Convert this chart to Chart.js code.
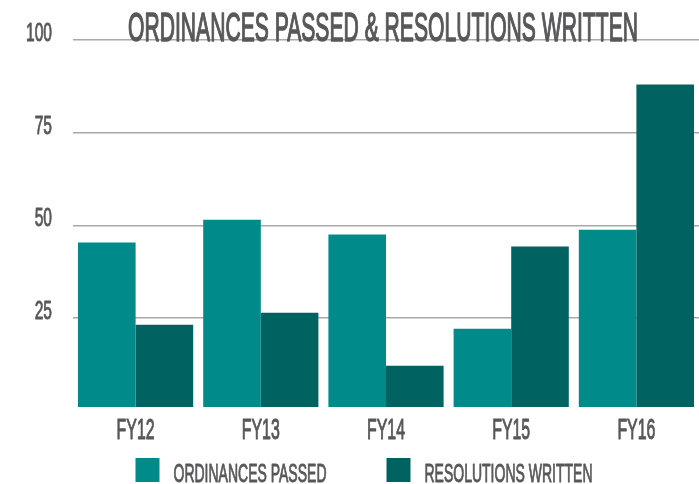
<!DOCTYPE html>
<html>
<head>
<meta charset="utf-8">
<script src="https://cdn.jsdelivr.net/npm/chart.js@4/dist/chart.umd.min.js"></script>
<style>
  html, body { margin: 0; padding: 0; background: #fff; }
  canvas { display: block; }
</style>
</head>
<body>
<canvas id="barChart" width="699" height="484"></canvas>
<script>
var title = 'ORDINANCES PASSED & RESOLUTIONS WRITTEN';
var categories = ['FY12', 'FY13', 'FY14', 'FY15', 'FY16'];
var seriesNames = ['ORDINANCES PASSED', 'RESOLUTIONS WRITTEN'];
var ordinancesPassed = [45.4, 51.5, 47.5, 22.1, 48.8];
var resolutionsWritten = [23.2, 26.4, 12.1, 44.3, 88];
var yTicks = [25, 50, 75, 100];

var textColor = '#58585a';
var fontFamily = '"Liberation Sans Narrow", "Liberation Sans", sans-serif';

function setFont(ctx, size) {
  ctx.font = size + 'px ' + fontFamily;
}

// squeeze factor so that a sample string comes out at the wanted width
// (the original uses a condensed display face)
function squeezeFor(ctx, sample, size, wanted) {
  ctx.save();
  setFont(ctx, size);
  var w = ctx.measureText(sample).width;
  ctx.restore();
  return wanted / w;
}

function squeezedText(ctx, text, x, y, size, align, squeeze) {
  ctx.save();
  setFont(ctx, size);
  ctx.fillStyle = textColor;
  ctx.strokeStyle = textColor;
  ctx.lineWidth = size / 28;
  ctx.lineJoin = 'round';
  ctx.textAlign = align;
  ctx.textBaseline = 'alphabetic';
  ctx.translate(x, y);
  ctx.scale(squeeze, 1);
  ctx.fillText(text, 0, 0);
  ctx.strokeText(text, 0, 0);  // a little extra weight
  ctx.restore();
}

function squeezedWidth(ctx, text, size, squeeze) {
  ctx.save();
  setFont(ctx, size);
  var w = ctx.measureText(text).width * squeeze;
  ctx.restore();
  return w;
}

var textPlugin = {
  id: 'textPlugin',
  afterDraw: function (chart) {
    var ctx = chart.ctx;
    var xs = chart.scales.x, ys = chart.scales.y;

    // title, sitting on the top gridline
    var tSize = 41;
    squeezedText(ctx, title, 383, 41, tSize, 'center', squeezeFor(ctx, title, tSize, 510));

    // y tick labels, sitting on their gridlines
    var ySize = 25, ySq = squeezeFor(ctx, '100', ySize, 26);
    ys.ticks.forEach(function (t) {
      var y = ys.getPixelForValue(t.value);
      squeezedText(ctx, String(t.value), 52, y + 1, ySize, 'right', ySq);
    });

    // category labels
    var xSize = 29, xSq = squeezeFor(ctx, 'FY12', xSize, 38);
    categories.forEach(function (c, i) {
      squeezedText(ctx, c, xs.getPixelForValue(i), 439, xSize, 'center', xSq);
    });

    // legend
    var size = 26, sq = squeezeFor(ctx, seriesNames[0], size, 153);
    var box = 24, gapBox = 14, gapItem = 60;
    var total = 0;
    chart.data.datasets.forEach(function (ds, i) {
      total += box + gapBox + squeezedWidth(ctx, ds.label, size, sq);
      if (i > 0) total += gapItem;
    });
    var x = 364 - total / 2;
    chart.data.datasets.forEach(function (ds) {
      ctx.fillStyle = ds.backgroundColor;
      ctx.fillRect(x, 458, box, box);
      x += box + gapBox;
      squeezedText(ctx, ds.label, x, 482, size, 'left', sq);
      x += squeezedWidth(ctx, ds.label, size, sq) + gapItem;
    });
  }
};

var ctx = document.getElementById('barChart').getContext('2d');
var chart = new Chart(ctx, {
  type: 'bar',
  data: {
    labels: categories,
    datasets: [{
      label: seriesNames[0],
      backgroundColor: '#008a89',
      borderWidth: 0,
      data: ordinancesPassed
    }, {
      label: seriesNames[1],
      backgroundColor: '#006261',
      borderWidth: 0,
      data: resolutionsWritten
    }]
  },
  options: {
    responsive: false,
    animation: false,
    layout: { padding: { top: 40, right: -4, left: 0, bottom: 0 } },
    datasets: {
      bar: { barPercentage: 1, categoryPercentage: 0.92 }
    },
    plugins: {
      legend: { display: false },
      title: { display: false },
      tooltip: { enabled: false }
    },
    scales: {
      x: {
        grid: { display: false },
        border: { display: false },
        ticks: { display: false },
        afterFit: function (scale) { scale.height = 77; }
      },
      y: {
        min: 1,
        max: 100,
        grid: { color: '#a8a8a8', lineWidth: 1.5, drawTicks: false },
        border: { display: false },
        ticks: { display: false },
        afterBuildTicks: function (scale) {
          scale.ticks = yTicks.map(function (v) { return { value: v }; });
        },
        afterFit: function (scale) { scale.width = 73; }
      }
    }
  },
  plugins: [textPlugin]
});
</script>
</body>
</html>
